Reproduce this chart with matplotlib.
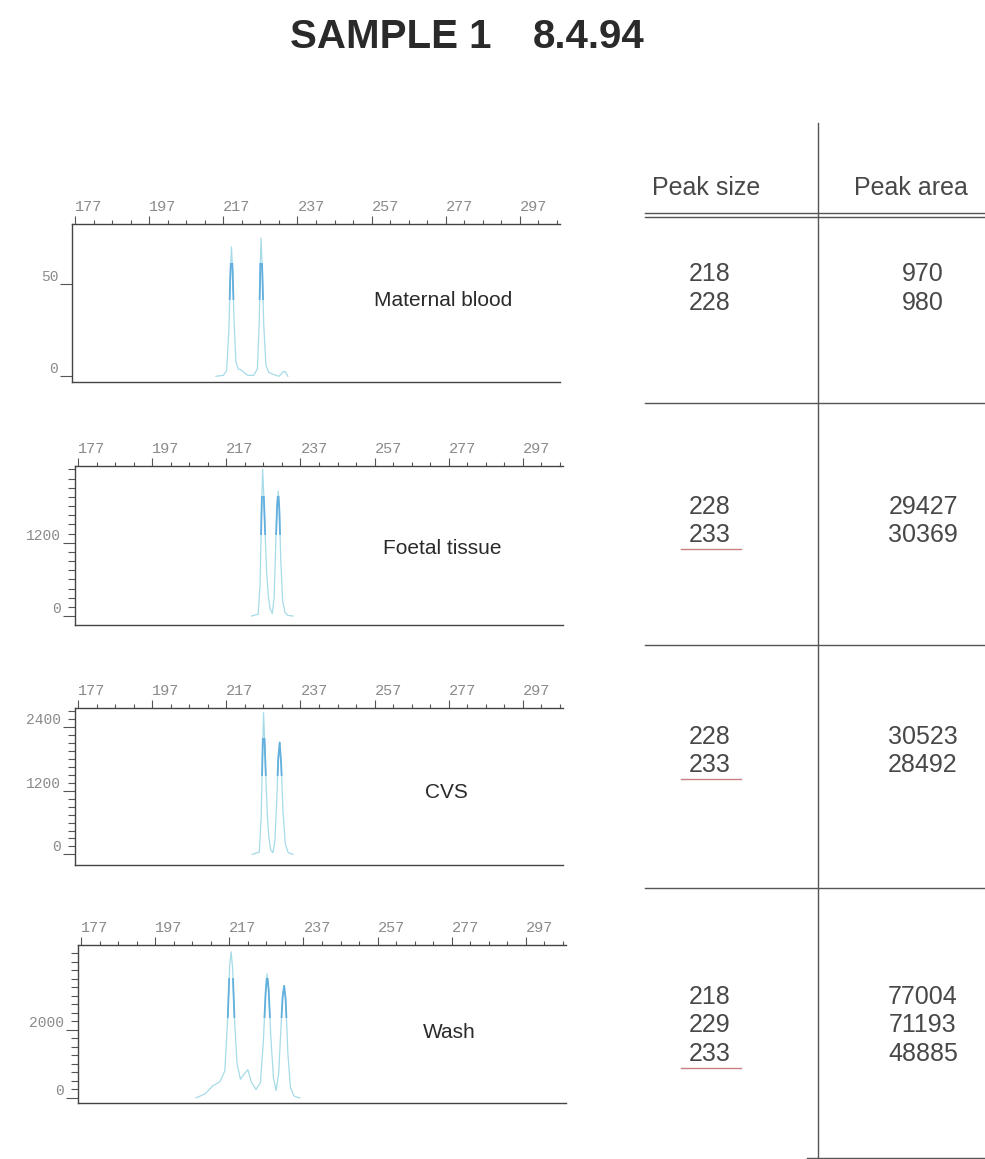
import numpy as np
import matplotlib
matplotlib.use("Agg")
import matplotlib.pyplot as plt
from matplotlib.patches import Rectangle
from matplotlib.ticker import FixedLocator

# ---- data ----
title_left = "SAMPLE 1"
title_right = "8.4.94"
samples = ["Maternal blood", "Foetal tissue", "CVS", "Wash"]
size_ticks = [177, 197, 217, 237, 257, 277, 297]

# traces: fragment size (bp) vs fluorescence
maternal_x = [215.0, 217.0, 217.9, 218.5, 218.9, 219.2, 219.5, 219.9, 220.4, 221.0, 221.8, 222.6, 223.6,
              225.2, 226.2, 226.7, 227.0, 227.2, 227.5, 227.9, 228.5, 229.3, 230.5, 232.0, 233.2, 233.7, 234.4]
maternal_y = [0, 0.5, 3, 25, 55, 70, 58, 30, 8, 4, 3.5, 2, 0.5,
              0.5, 4, 30, 62, 74.7, 58, 28, 6, 2, 1, 0, 2.5, 2.5, 0]

foetal_x = [223.8, 225.6, 226.1, 226.5, 226.8, 227.1, 227.5, 227.9, 228.3, 228.8, 229.4, 229.9, 230.3,
            230.7, 231.0, 231.3, 231.7, 232.2, 232.8, 233.6, 235.0]
foetal_y = [0, 30, 500, 1700, 2400, 2000, 1300, 700, 350, 120, 40, 300, 1100,
            1800, 2045, 1750, 900, 250, 60, 10, 0]

cvs_x = [224.0, 225.9, 226.4, 226.8, 227.05, 227.3, 227.7, 228.1, 228.5, 229.0, 229.6, 230.1, 230.6,
         231.0, 231.4, 231.8, 232.3, 232.9, 233.7, 235.0]
cvs_y = [0, 40, 700, 2000, 2680, 2200, 1400, 700, 300, 80, 30, 250, 1000,
         1800, 2116, 1700, 800, 200, 30, 0]

wash_x = [208.0, 210.5, 212.5, 214.5, 215.8, 216.6, 217.1, 217.5, 217.9, 218.4, 219.1, 220.0, 221.0,
          222.0, 223.0, 224.2, 225.4, 226.2, 226.8, 227.2, 227.6, 228.2, 228.9, 229.6, 230.3, 230.9,
          231.4, 231.8, 232.2, 232.8, 233.5, 234.5, 236.0]
wash_y = [0, 120, 350, 480, 800, 2400, 3900, 4300, 3800, 2300, 1000, 550, 700,
          830, 450, 250, 450, 1700, 3100, 3650, 3200, 1800, 600, 220, 700, 2000,
          3000, 3300, 2900, 1300, 300, 50, 0]

y_ticks = [[0, 50], [0, 1200], [0, 1200, 2400], [0, 2000]]

peak_sizes = [[218, 228], [228, 233], [228, 233], [218, 229, 233]]
peak_areas = [[970, 980], [29427, 30369], [30523, 28492], [77004, 71193, 48885]]
underlined = [False, True, True, True]

traces = [(maternal_x, maternal_y), (foetal_x, foetal_y), (cvs_x, cvs_y), (wash_x, wash_y)]

# ---- layout (pixels in a 985x1159 figure) ----
W, H = 985, 1159
panel_box = [(72, 224, 382), (75, 466, 625), (75, 708, 865), (78, 945, 1103)]  # left, top, bottom
panel_w = 488
panel_ylim = [(-3.1, 82.4), (-147, 2455), (-202, 2766), (-150, 4500)]
panel_minor = [None, 150, 150, 250]
label_pos = [(443, 301), (442, 548), (446, 793), (449, 1032)]
row_y = [274, 507, 737, 997]
line_gap = 28.5

trace_col = "#a6dbe8"
hi_col = "#63b0de"
axis_col = "#444444"
tick_txt = "#8a8a8a"
txt_col = "#484848"

fig = plt.figure(figsize=(W / 100, H / 100), dpi=100)
fig.patch.set_facecolor("white")

# overlay axes in pixel units for title and table
tab = fig.add_axes([0, 0, 1, 1])
tab.set_xlim(0, W)
tab.set_ylim(H, 0)
tab.axis("off")

tab.text(290, 37, title_left, ha="left", va="center", fontsize=29, fontweight="bold",
         family="Liberation Sans", color="#2a2a2a")
tab.text(533, 37, title_right, ha="left", va="center", fontsize=29, fontweight="bold",
         family="Liberation Sans", color="#2a2a2a")

# table grid
tab.plot([818, 818], [123, 1159], color="#555555", lw=1)
tab.plot([645, 985], [212.5, 212.5], color="#555555", lw=1)
tab.plot([645, 985], [216.5, 216.5], color="#555555", lw=1)
for yy in [403, 645, 887.5]:
    tab.plot([645, 985], [yy, yy], color="#555555", lw=1)
tab.plot([807, 985], [1157.5, 1157.5], color="#555555", lw=1)

tab.text(706, 188, "Peak size", ha="center", va="center", fontsize=18,
         family="Liberation Sans", color=txt_col)
tab.text(911, 188, "Peak area", ha="center", va="center", fontsize=18,
         family="Liberation Sans", color=txt_col)

for i in range(len(samples)):
    for j, (s, a) in enumerate(zip(peak_sizes[i], peak_areas[i])):
        yy = row_y[i] + j * line_gap
        tab.text(710, yy, str(s), ha="center", va="center", fontsize=18,
                 family="Liberation Sans", color=txt_col)
        tab.text(923, yy, str(a), ha="center", va="center", fontsize=18,
                 family="Liberation Sans", color=txt_col)
    if underlined[i]:
        yy = row_y[i] + (len(peak_sizes[i]) - 1) * line_gap + 13.5
        tab.plot([681, 741], [yy, yy], color="#c98080", lw=1)

# ---- electropherogram panels ----
for i, (tx, ty) in enumerate(traces):
    left, top, bottom = panel_box[i]
    ax = fig.add_axes([left / W, 1 - bottom / H, panel_w / W, (bottom - top) / H])
    ax.patch.set_alpha(0)
    ax.set_xlim(176.2, 307.8)
    ax.set_ylim(*panel_ylim[i])

    ax.plot(tx, ty, color=trace_col, lw=0.9)
    ymax = max(ty)
    hi = ax.plot(tx, ty, color=hi_col, lw=1.3)[0]
    hi.set_clip_path(Rectangle((176.2, 0.55 * ymax), 131.6, 0.27 * ymax, transform=ax.transData))

    for side in ["top", "left", "bottom"]:
        ax.spines[side].set_color(axis_col)
        ax.spines[side].set_linewidth(1.0)
    ax.spines["right"].set_visible(False)

    ax.xaxis.tick_top()
    ax.set_xticks(size_ticks)
    ax.xaxis.set_minor_locator(FixedLocator([v for v in np.arange(177, 308, 5) if v not in size_ticks]))
    ax.tick_params(axis="x", which="major", direction="out", length=6, width=0.8, color="#555555",
                   pad=1, labelsize=11, labelcolor=tick_txt)
    ax.tick_params(axis="x", which="minor", direction="out", length=3, width=0.8, color="#555555")
    for lbl in ax.get_xticklabels():
        lbl.set_ha("left")
        lbl.set_family("Liberation Mono")

    ax.set_yticks(y_ticks[i])
    if panel_minor[i]:
        lo, hi_lim = panel_ylim[i]
        ax.yaxis.set_minor_locator(FixedLocator(np.arange(0, hi_lim, panel_minor[i])))
    ax.tick_params(axis="y", which="major", direction="out", length=9, width=0.8, color="#555555",
                   pad=1, labelsize=10.5, labelcolor=tick_txt)
    ax.tick_params(axis="y", which="minor", direction="out", length=5, width=0.8, color="#555555")
    for lbl in ax.get_yticklabels():
        lbl.set_va("bottom")
        lbl.set_family("Liberation Mono")

    lx, ly = label_pos[i]
    tab.text(lx, ly, samples[i], ha="center", va="center", fontsize=15,
             family="Liberation Sans", color="#2a2a2a")

fig.savefig("out.png", dpi=100)
